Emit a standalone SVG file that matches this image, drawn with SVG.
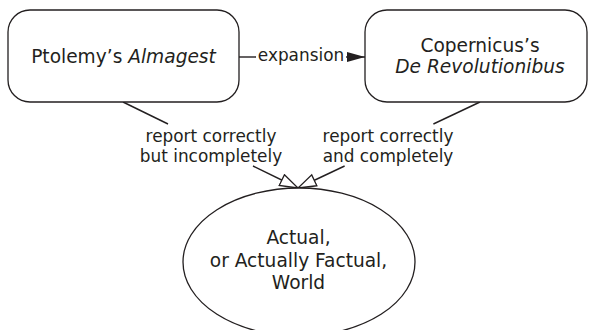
<svg xmlns="http://www.w3.org/2000/svg" width="589" height="330" viewBox="0 0 589 330">
  <style>
    .node { fill: #ffffff; stroke: #231f20; stroke-width: 1.3; }
    .ntext { font-family: "DejaVu Sans", Verdana, sans-serif; font-size: 18.6px; fill: #231f20; text-anchor: middle; }
    .ltext { font-family: "DejaVu Sans", Verdana, sans-serif; font-size: 16.9px; fill: #231f20; text-anchor: middle; }
    .edge { fill: none; stroke: #231f20; stroke-width: 1.4; }
    .it { font-style: italic; }
  </style>
  <defs>
    <marker id="solidArrow" markerUnits="userSpaceOnUse" markerWidth="20" markerHeight="12" refX="18" refY="5" orient="auto">
      <path d="M0,0 L18,5 L0,10 Z" fill="#231f20"/>
    </marker>
    <marker id="openArrow" markerUnits="userSpaceOnUse" markerWidth="22" markerHeight="16" refX="19" refY="7" orient="auto">
      <path d="M1,1 L19,7 L1,13 Z" fill="#ffffff" stroke="#231f20" stroke-width="1.3"/>
    </marker>
  </defs>

  <g id="connectors">
    <!-- expansion -->
    <line class="edge" x1="239" y1="57" x2="256" y2="57"/>
    <line class="edge" x1="346" y1="57" x2="365" y2="57" marker-end="url(#solidArrow)"/>
    <text class="ltext" x="301" y="61">expansion</text>
    <!-- report correctly but incompletely -->
    <line class="edge" x1="123" y1="102" x2="168" y2="124"/>
    <line class="edge" x1="253" y1="166" x2="298" y2="188" marker-end="url(#openArrow)"/>
    <text class="ltext" x="211" y="142">report correctly</text>
    <text class="ltext" x="211" y="162">but incompletely</text>
    <!-- report correctly and completely -->
    <line class="edge" x1="480" y1="102" x2="433.4" y2="124"/>
    <line class="edge" x1="344.6" y1="166" x2="298" y2="188" marker-end="url(#openArrow)"/>
    <text class="ltext" x="388" y="142">report correctly</text>
    <text class="ltext" x="388" y="162">and completely</text>
  </g>

  <g id="almagest">
    <rect class="node" x="8" y="10" width="231" height="92" rx="22" ry="22"/>
    <text class="ntext" x="123.5" y="63.3">Ptolemy’s <tspan class="it">Almagest</tspan></text>
  </g>

  <g id="revolutionibus">
    <rect class="node" x="365" y="10" width="222" height="92" rx="22" ry="22"/>
    <text class="ntext" x="480" y="51.7">Copernicus’s</text>
    <text class="ntext it" x="480" y="72.7">De Revolutionibus</text>
  </g>

  <g id="actual-world">
    <ellipse class="node" cx="299" cy="262" rx="116" ry="74"/>
    <text class="ntext" x="298.5" y="244">Actual,</text>
    <text class="ntext" x="298.5" y="266.5">or Actually Factual,</text>
    <text class="ntext" x="298.5" y="289">World</text>
  </g>
</svg>
